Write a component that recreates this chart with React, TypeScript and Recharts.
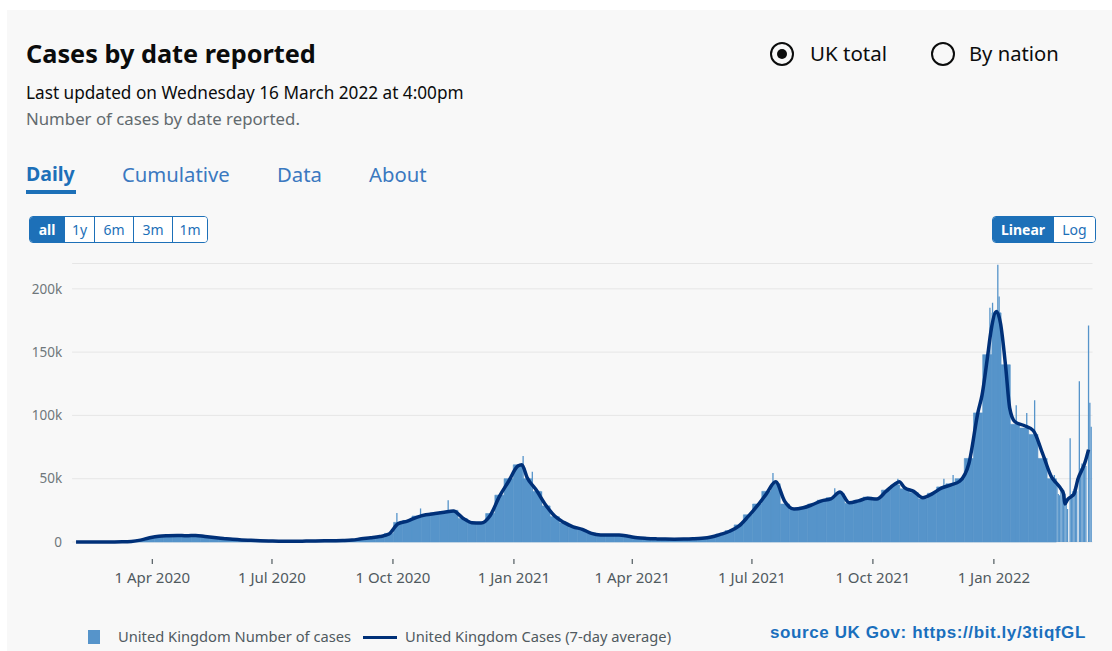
import React from "react";
import { ComposedChart, Bar, Line, XAxis, YAxis, CartesianGrid } from "recharts";

// weekly (Monday) readings of the daily bars and the 7-day average
const weekDates = [
  "2020-02-03", "2020-02-10", "2020-02-17", "2020-02-24", "2020-03-02", "2020-03-09", "2020-03-16", "2020-03-23",
  "2020-03-30", "2020-04-06", "2020-04-13", "2020-04-20", "2020-04-27", "2020-05-04", "2020-05-11", "2020-05-18",
  "2020-05-25", "2020-06-01", "2020-06-08", "2020-06-15", "2020-06-22", "2020-06-29", "2020-07-06", "2020-07-13",
  "2020-07-20", "2020-07-27", "2020-08-03", "2020-08-10", "2020-08-17", "2020-08-24", "2020-08-31", "2020-09-07",
  "2020-09-14", "2020-09-21", "2020-09-28", "2020-10-05", "2020-10-12", "2020-10-19", "2020-10-26", "2020-11-02",
  "2020-11-09", "2020-11-16", "2020-11-23", "2020-11-30", "2020-12-07", "2020-12-14", "2020-12-21", "2020-12-28",
  "2021-01-04", "2021-01-11", "2021-01-18", "2021-01-25", "2021-02-01", "2021-02-08", "2021-02-15", "2021-02-22",
  "2021-03-01", "2021-03-08", "2021-03-15", "2021-03-22", "2021-03-29", "2021-04-05", "2021-04-12", "2021-04-19",
  "2021-04-26", "2021-05-03", "2021-05-10", "2021-05-17", "2021-05-24", "2021-05-31", "2021-06-07", "2021-06-14",
  "2021-06-21", "2021-06-28", "2021-07-05", "2021-07-12", "2021-07-19", "2021-07-26", "2021-08-02", "2021-08-09",
  "2021-08-16", "2021-08-23", "2021-08-30", "2021-09-06", "2021-09-13", "2021-09-20", "2021-09-27", "2021-10-04",
  "2021-10-11", "2021-10-18", "2021-10-25", "2021-11-01", "2021-11-08", "2021-11-15", "2021-11-22", "2021-11-29",
  "2021-12-06", "2021-12-13", "2021-12-20", "2021-12-27", "2022-01-03", "2022-01-10", "2022-01-17", "2022-01-24",
  "2022-01-31", "2022-02-07", "2022-02-14",
];

const weekCases = [
  0, 0, 0, 10, 50, 150, 500, 1700, 3600, 4800, 5100, 5300, 4800, 5300, 4200, 3400,
  2700, 2000, 1600, 1250, 950, 780, 640, 590, 640, 700, 820, 920, 1020, 1200, 1600, 2700,
  3500, 4500, 6800, 15500, 17000, 20500, 22000, 23000, 24000, 25000, 18500, 15000, 15500, 22500, 37000, 50000,
  61000, 50000, 40000, 28500, 20000, 15000, 11500, 9500, 7000, 5800, 5700, 5400, 4500, 3100, 2700, 2500,
  2300, 2200, 2300, 2500, 3000, 4100, 6300, 9000, 13500, 21500, 30000, 40000, 46000, 30000, 26500, 27500,
  30000, 33000, 35000, 38000, 30500, 33000, 35500, 34500, 41000, 45000, 42000, 39000, 34000, 38500, 43500, 46000,
  50000, 66000, 102000, 148000, 181000, 140000, 93000, 90000, 85000, 66000, 50000,
];

const weekAvg = [
  0, 0, 0, 10, 40, 120, 450, 1500, 3300, 4600, 5000, 5200, 4900, 5200, 4300, 3500,
  2800, 2100, 1600, 1300, 1000, 800, 650, 600, 620, 700, 800, 900, 1000, 1150, 1500, 2500,
  3300, 4300, 6300, 14500, 16500, 19500, 21500, 22500, 23500, 24500, 19000, 15300, 15000, 21000, 36000, 48000,
  60000, 51000, 41000, 29500, 20500, 15500, 12000, 10000, 6800, 5600, 5500, 5500, 4500, 3300, 2800, 2500,
  2300, 2200, 2300, 2500, 2900, 3900, 6000, 8500, 12500, 20000, 28500, 38000, 47500, 32000, 26000, 27000,
  29500, 32500, 34000, 39500, 31000, 32500, 34500, 34000, 40000, 46000, 43000, 40000, 35000, 38000, 42500, 45000,
  48000, 62000, 103000, 145000, 182000, 138000, 95000, 92000, 88000, 70000, 51000,
];

// extra 7-day average readings around peaks and at the end
const avgDates = [
  "2021-01-07", "2021-10-21", "2021-12-23", "2021-12-30", "2022-01-06", "2022-01-13",
  "2022-02-18", "2022-02-21", "2022-02-23", "2022-02-24", "2022-02-26", "2022-03-01",
  "2022-03-03", "2022-03-06", "2022-03-09", "2022-03-11", "2022-03-14",
];
const avgValues = [
  61000, 47500, 116000, 168000, 173000, 106000,
  46000, 42000, 38000, 30000, 33500, 36000,
  38000, 50000, 57000, 62000, 73000,
];

// single-day readings: spikes above the average
const spikeDates = [
  "2020-10-04", "2020-10-22", "2020-11-12", "2021-01-08", "2021-01-15", "2021-01-22", "2021-01-28",
  "2021-07-17", "2021-09-02", "2021-10-20", "2021-11-24", "2021-12-01", "2021-12-29", "2021-12-31",
  "2022-01-04", "2022-01-05", "2022-01-18", "2022-01-26", "2022-02-01", "2022-02-09", "2022-02-16",
];
const spikeCases = [
  23000, 26500, 33000, 68000, 55500, 40000, 28500,
  54500, 42500, 50000, 50000, 53000, 185000, 189000,
  219000, 194000, 108000, 102000, 112000, 67000, 53000,
];

// daily readings for the last weeks
const lateDates = [
  "2022-02-18", "2022-02-19", "2022-02-20", "2022-02-21", "2022-02-22", "2022-02-23", "2022-02-24",
  "2022-02-25", "2022-02-26", "2022-02-27", "2022-02-28", "2022-03-01", "2022-03-02", "2022-03-03",
  "2022-03-04", "2022-03-05", "2022-03-06", "2022-03-07", "2022-03-08", "2022-03-09", "2022-03-10",
  "2022-03-11", "2022-03-12", "2022-03-13", "2022-03-14", "2022-03-15", "2022-03-16",
];
const lateCases = [
  46000, 38000, 37000, 42000, 40000, 41000, 38000,
  34000, 26000, 0, 82000, 38000, 40000, 42000,
  44000, 40000, 0, 127000, 58000, 62000, 60000,
  64000, 60000, 0, 171000, 110000, 91000,
];

const tickDates = ["2020-04-01", "2020-07-01", "2020-10-01", "2021-01-01", "2021-04-01", "2021-07-01", "2021-10-01", "2022-01-01"];
const tickLabels = ["1 Apr 2020", "1 Jul 2020", "1 Oct 2020", "1 Jan 2021", "1 Apr 2021", "1 Jul 2021", "1 Oct 2021", "1 Jan 2022"];
const yTicks = [0, 50000, 100000, 150000, 200000];

const dayOf = (s: string) => Math.round((Date.parse(s) - Date.parse("2020-04-01")) / 86400000);
const tickDays = tickDates.map(dayOf);

// weekly bars go in their own chart so that their width is set by the weekly spacing
const weekData = weekDates.map((d, i) => ({ t: dayOf(d), week: weekCases[i] }));

type Row = { t: number; avg?: number; day?: number };
const rows = new Map<number, Row>();
const put = (date: string, key: "avg" | "day", v: number) => {
  const t = dayOf(date);
  const r = rows.get(t) ?? { t };
  r[key] = v;
  rows.set(t, r);
};
weekDates.forEach((d, i) => put(d, "avg", weekAvg[i]));
avgDates.forEach((d, i) => put(d, "avg", avgValues[i]));
spikeDates.forEach((d, i) => put(d, "day", spikeCases[i]));
lateDates.forEach((d, i) => put(d, "day", lateCases[i]));
const dailyData = [...rows.values()].sort((a, b) => a.t - b.t);

const FONT = '"Noto Sans", sans-serif';
const BLUE = "#1d70b8";
const BAR = "#5694ca";
const LINE = "#003078";
const DOMAIN: [number, number] = [-61, 715];
const W = 1112;
const H = 360;
const MARGIN = { top: 13.5, right: 19.5, bottom: 8, left: 0 };
const PLOT_BOTTOM = 292; // svg y of the zero line

const DateTick = (props: any) => {
  const { x, payload } = props;
  const i = tickDays.indexOf(payload.value);
  return (
    <g>
      <line x1={x} x2={x} y1={PLOT_BOTTOM + 17} y2={PLOT_BOTTOM + 22} stroke="#505a5f" strokeWidth={1.2} />
      <text x={x} y={PLOT_BOTTOM + 41} textAnchor="middle" fontSize={15} fontFamily={FONT} fill="#505a5f">
        {i >= 0 ? tickLabels[i] : ""}
      </text>
    </g>
  );
};

const Txt = ({ left, top, size, children, style }: any) => (
  <div style={{ position: "absolute", left, top, fontSize: size, lineHeight: 1, whiteSpace: "nowrap", ...style }}>
    {children}
  </div>
);

const Segments = ({ left, items, widths }: { left: number; items: string[]; widths: number[] }) => (
  <div
    style={{
      position: "absolute", left, top: 216, height: 25, display: "flex",
      border: `1px solid ${BLUE}`, borderRadius: 4, overflow: "hidden", background: "#fff",
    }}
  >
    {items.map((it, i) => (
      <div
        key={it}
        style={{
          width: widths[i], height: 25, lineHeight: "25px", textAlign: "center", fontSize: 14,
          color: i === 0 ? "#fff" : BLUE, background: i === 0 ? BLUE : "#fff",
          fontWeight: i === 0 ? 700 : 400, borderLeft: i === 0 ? "none" : `1px solid ${BLUE}`, boxSizing: "border-box",
        }}
      >
        {it}
      </div>
    ))}
  </div>
);

const Radio = ({ cx, checked }: { cx: number; checked: boolean }) => (
  <div
    style={{
      position: "absolute", left: cx - 12, top: 42, width: 20, height: 20, borderRadius: "50%",
      border: "2px solid #0b0c0c", display: "flex", alignItems: "center", justifyContent: "center",
    }}
  >
    {checked && <div style={{ width: 10, height: 10, borderRadius: "50%", background: "#0b0c0c" }} />}
  </div>
);

export default function App() {
  return (
    <div style={{ position: "absolute", left: 0, top: 0, width: 1112, height: 651, background: "#fff", fontFamily: FONT, color: "#0b0c0c", overflow: "hidden" }}>
      <div style={{ position: "absolute", left: 7, top: 10, right: 0, bottom: 0, background: "#f8f8f8" }} />

      <Txt left={26} top={41} size={25.3} style={{ fontWeight: 700 }}>Cases by date reported</Txt>
      <Txt left={26} top={84} size={17.2}>Last updated on Wednesday 16 March 2022 at 4:00pm</Txt>
      <Txt left={26} top={111} size={16.8} style={{ color: "#626a6e" }}>Number of cases by date reported.</Txt>

      <Radio cx={782} checked />
      <Txt left={810} top={43} size={20.5}>UK total</Txt>
      <Radio cx={943} checked={false} />
      <Txt left={969} top={43} size={20.2}>By nation</Txt>

      <Txt left={26} top={164} size={19.5} style={{ color: BLUE, fontWeight: 700 }}>Daily</Txt>
      <Txt left={122} top={164} size={20.3} style={{ color: "#3b79c0" }}>Cumulative</Txt>
      <Txt left={277} top={164} size={20.3} style={{ color: "#3b79c0" }}>Data</Txt>
      <Txt left={369} top={164} size={20.3} style={{ color: "#3b79c0" }}>About</Txt>
      <div style={{ position: "absolute", left: 26, top: 190, width: 50, height: 4, background: BLUE }} />

      <Segments left={29} items={["all", "1y", "6m", "3m", "1m"]} widths={[34, 30, 39, 39, 35]} />
      <Segments left={992} items={["Linear", "Log"]} widths={[60, 42]} />

      <div style={{ position: "absolute", left: 0, top: 250 }}>
        <ComposedChart width={W} height={H} data={weekData} margin={MARGIN}>
          <CartesianGrid vertical={false} stroke="#e6e6e6" />
          <XAxis
            type="number" dataKey="t" domain={DOMAIN} allowDataOverflow
            ticks={tickDays} interval={0} tick={(p: any) => <DateTick {...p} />}
            tickLine={false} axisLine={false} tickSize={0} tickMargin={0} height={60}
          />
          <YAxis
            type="number" domain={[0, 220000]} ticks={yTicks} width={72.1}
            tickFormatter={(v: number) => (v === 0 ? "0" : `${v / 1000}k`)}
            tick={{ fontSize: 13.5, fill: "#6f777b", fontFamily: FONT }}
            tickLine={false} axisLine={false} tickSize={0} tickMargin={10}
          />
          <Bar dataKey="week" fill={BAR} stroke={BAR} strokeWidth={0.6} barSize={9.2} isAnimationActive={false} />
        </ComposedChart>
      </div>

      <div style={{ position: "absolute", left: 0, top: 250 }}>
        <ComposedChart width={W} height={H} data={dailyData} margin={{ ...MARGIN, left: 72.1, bottom: 68 }}>
          <XAxis type="number" dataKey="t" domain={DOMAIN} allowDataOverflow hide />
          <YAxis type="number" domain={[0, 220000]} hide />
          <Bar dataKey="day" fill={BAR} barSize={1.3} isAnimationActive={false} />
          <Line
            type="monotone" dataKey="avg" stroke={LINE} strokeWidth={3.5}
            dot={false} activeDot={false} connectNulls isAnimationActive={false}
          />
        </ComposedChart>
      </div>

      <div style={{ position: "absolute", left: 88, top: 630, width: 12, height: 14, background: BAR }} />
      <Txt left={118} top={629} size={14.7} style={{ color: "#505a5f" }}>United Kingdom Number of cases</Txt>
      <div style={{ position: "absolute", left: 363, top: 635.5, width: 34, height: 3.5, background: LINE }} />
      <Txt left={405} top={629} size={14.7} style={{ color: "#505a5f" }}>United Kingdom Cases (7-day average)</Txt>
      <Txt left={770} top={624} size={17} style={{ color: "#1a6fbd", fontWeight: 700, letterSpacing: 0.6, fontFamily: '"Liberation Sans", Arial, sans-serif' }}>
        source UK Gov: https://bit.ly/3tiqfGL
      </Txt>
    </div>
  );
}
